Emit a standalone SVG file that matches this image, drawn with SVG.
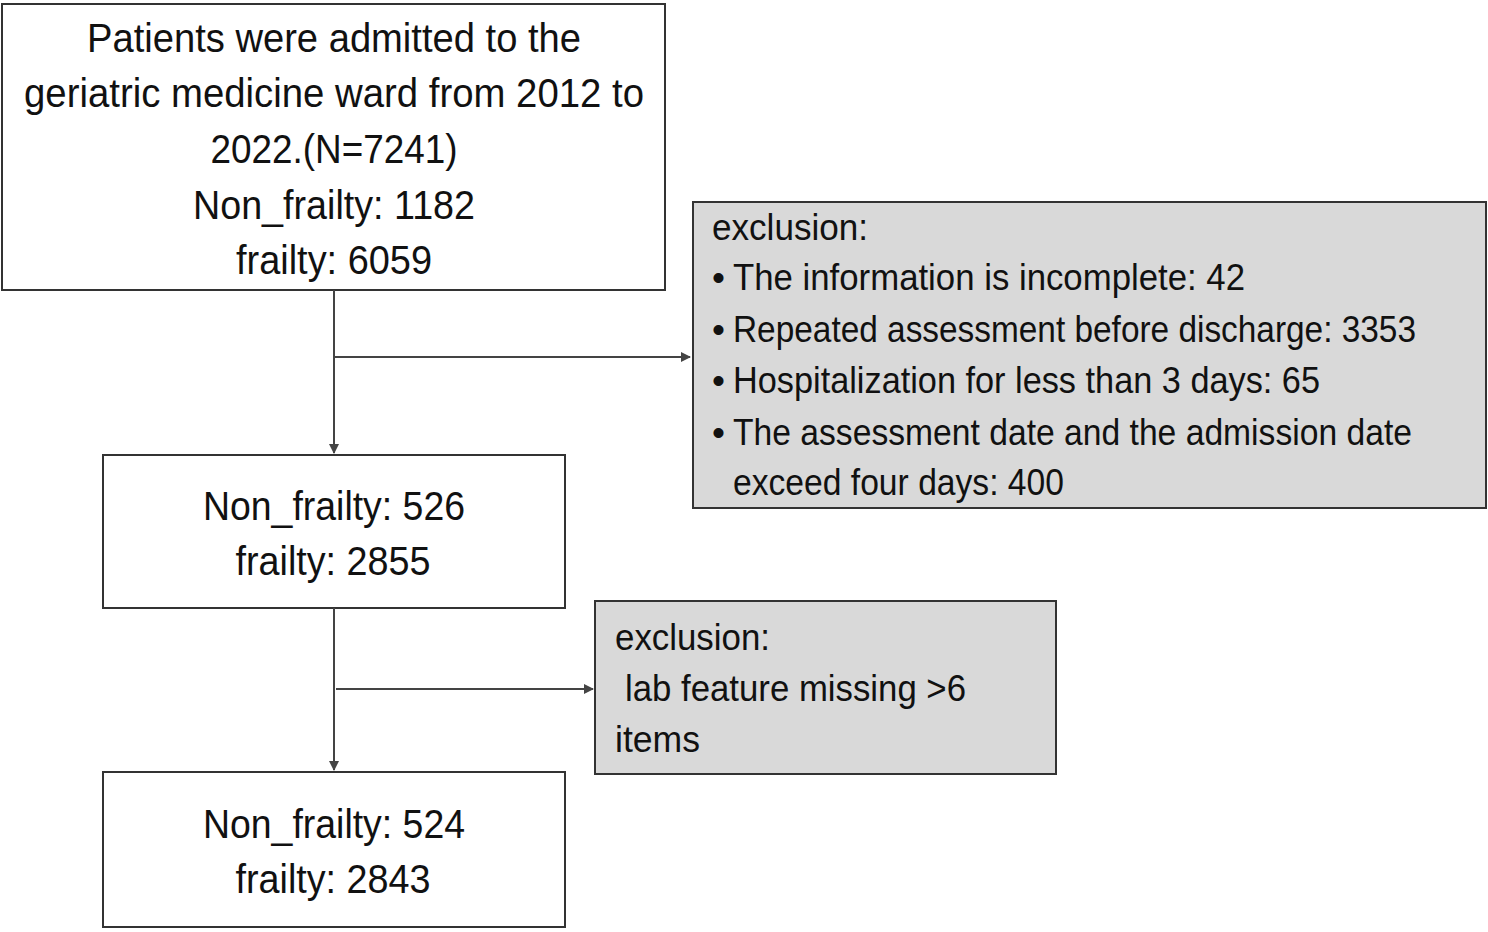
<svg xmlns="http://www.w3.org/2000/svg" width="1488" height="932" viewBox="0 0 1488 932">
<style>
.b{fill:#fff;stroke:#333;stroke-width:2}
.g{fill:#d9d9d9;stroke:#333;stroke-width:2}
text{font-family:"Liberation Sans",Arial,sans-serif;font-size:40px;fill:#111}
.c{text-anchor:middle}
.s{font-size:37px}
.l{stroke:#444;stroke-width:2;fill:none;marker-end:url(#a)}
</style>
<defs><marker id="a" markerWidth="10" markerHeight="10" refX="9" refY="5" orient="auto" markerUnits="userSpaceOnUse"><path d="M0,0 L10,5 L0,10 Z" fill="#444"/></marker></defs>
<rect width="1488" height="932" fill="#fff"/>
<g id="n1"><rect class="b" x="2" y="4" width="663" height="286"/>
<text class="c" x="334" y="52" textLength="494" lengthAdjust="spacingAndGlyphs">Patients were admitted to the</text>
<text class="c" x="334" y="107" textLength="620" lengthAdjust="spacingAndGlyphs">geriatric medicine ward from 2012 to</text>
<text class="c" x="334" y="163" textLength="247" lengthAdjust="spacingAndGlyphs">2022.(N=7241)</text>
<text class="c" x="334" y="219" textLength="282" lengthAdjust="spacingAndGlyphs">Non_frailty: 1182</text>
<text class="c" x="334" y="274" textLength="196" lengthAdjust="spacingAndGlyphs">frailty: 6059</text></g>
<g id="n2"><rect class="g" x="693" y="202" width="793" height="306"/>
<text class="s" x="712" y="240" textLength="156" lengthAdjust="spacingAndGlyphs">exclusion:</text>
<text class="s" x="712" y="290">•</text><text class="s" x="733" y="290" textLength="512" lengthAdjust="spacingAndGlyphs">The information is incomplete: 42</text>
<text class="s" x="712" y="342">•</text><text class="s" x="733" y="342" textLength="683" lengthAdjust="spacingAndGlyphs">Repeated assessment before discharge: 3353</text>
<text class="s" x="712" y="393">•</text><text class="s" x="733" y="393" textLength="587" lengthAdjust="spacingAndGlyphs">Hospitalization for less than 3 days: 65</text>
<text class="s" x="712" y="445">•</text><text class="s" x="733" y="445" textLength="679" lengthAdjust="spacingAndGlyphs">The assessment date and the admission date</text>
<text class="s" x="733" y="495" textLength="331" lengthAdjust="spacingAndGlyphs">exceed four days: 400</text></g>
<g id="n3"><rect class="b" x="103" y="455" width="462" height="153"/>
<text class="c" x="334" y="520" textLength="262" lengthAdjust="spacingAndGlyphs">Non_frailty: 526</text>
<text class="c" x="333" y="575" textLength="195" lengthAdjust="spacingAndGlyphs">frailty: 2855</text></g>
<g id="n4"><rect class="g" x="595" y="601" width="461" height="173"/>
<text class="s" x="615" y="650" textLength="155" lengthAdjust="spacingAndGlyphs">exclusion:</text>
<text class="s" x="625" y="701" textLength="341" lengthAdjust="spacingAndGlyphs">lab feature missing &gt;6</text>
<text class="s" x="615" y="752" textLength="85" lengthAdjust="spacingAndGlyphs">items</text></g>
<g id="n5"><rect class="b" x="103" y="772" width="462" height="155"/>
<text class="c" x="334" y="838" textLength="262" lengthAdjust="spacingAndGlyphs">Non_frailty: 524</text>
<text class="c" x="333" y="893" textLength="195" lengthAdjust="spacingAndGlyphs">frailty: 2843</text></g>
<g id="connectors">
<path class="l" d="M334,290 V453"/>
<path class="l" d="M334,357 H690"/>
<path class="l" d="M334,608 V770"/>
<path class="l" d="M336,689 H593"/>
</g>
</svg>
